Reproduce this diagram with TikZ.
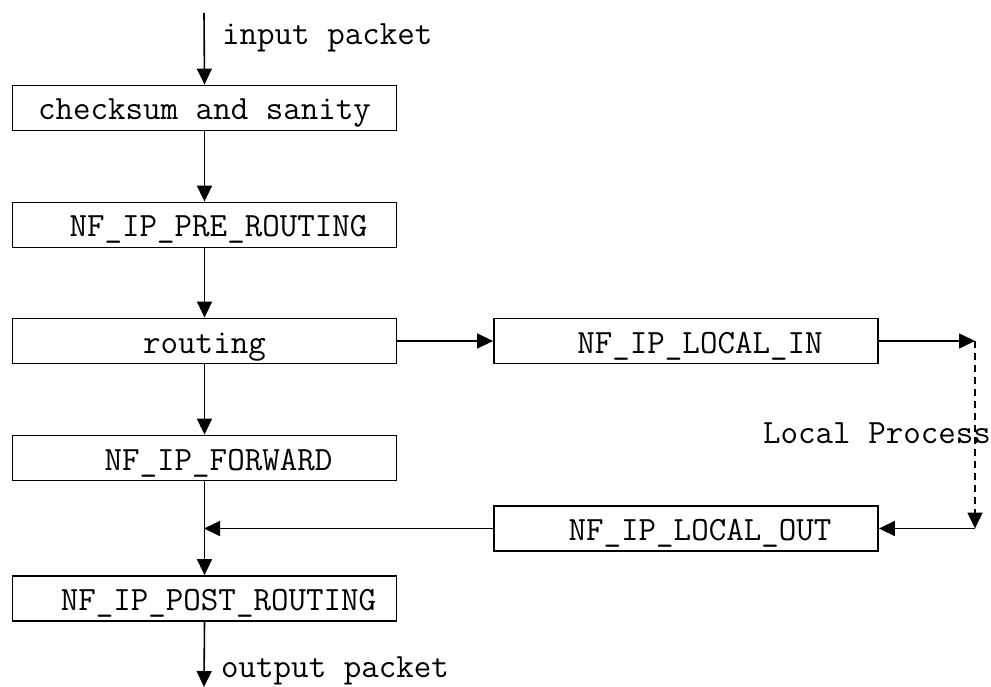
\documentclass[tikz,border=0pt]{standalone}
\usepackage{fontspec}
\usetikzlibrary{arrows.meta}
\begin{document}
\begin{tikzpicture}[x=1pt,y=-1pt,
  box/.style={draw,line width=1.8pt,minimum width=384pt,minimum height=45pt,inner sep=0pt,
    text height=24pt,text depth=0pt,font=\ttfamily\fontsize{34}{39}\selectfont},
  lbl/.style={inner sep=0pt,font=\ttfamily\fontsize{34}{39}\selectfont},
  conn/.style={line width=1.6pt,-{Triangle[length=16pt,width=15pt]}},
  dconn/.style={conn,dash pattern=on 7pt off 5pt}]
\useasboundingbox (0,0) rectangle (991,687);
\node[box] (chk)  at (204.5,108)   {checksum and sanity};
\node[box] (pre)  at (204.5,225)   {\hspace*{28pt}NF\_IP\_PRE\_ROUTING};
\node[box] (rout) at (204.5,341)   {routing};
\node[box] (fwd)  at (204.5,458)   {\hspace*{28pt}NF\_IP\_FORWARD};
\node[box] (post) at (204.5,598.5) {\hspace*{28pt}NF\_IP\_POST\_ROUTING};
\node[box] (lin)  at (686,341)     {\hspace*{28pt}NF\_IP\_LOCAL\_IN};
\node[box] (lout) at (686,528.5)   {\hspace*{28pt}NF\_IP\_LOCAL\_OUT};
\coordinate (in) at (204,13);
\coordinate (out) at (204,687);
\coordinate (pA) at (975,341);
\coordinate (pB) at (975,528.5);
\coordinate (merge) at (204,528.5);
\node[lbl,anchor=base west] (tin)  at (222,45)  {input packet};
\node[lbl,anchor=base west] (tout) at (221,677) {output packet};
\node[lbl,anchor=base west] (tlp)  at (763,443) {Local Process};
\draw[conn] (in) -- (chk.north);
\draw[conn] (chk.south) -- (pre.north);
\draw[conn] (pre.south) -- (rout.north);
\draw[conn] (rout.south) -- (fwd.north);
\draw[conn] (fwd.south) -- (post.north);
\draw[conn] (post.south) -- (out);
\draw[conn] (rout.east) -- (lin.west);
\draw[conn] (lin.east) -- (pA);
\draw[dconn] (pA) -- (pB);
\draw[conn] (pB) -- (lout.east);
\draw[conn] (lout.west) -- (merge);
\end{tikzpicture}
\end{document}
